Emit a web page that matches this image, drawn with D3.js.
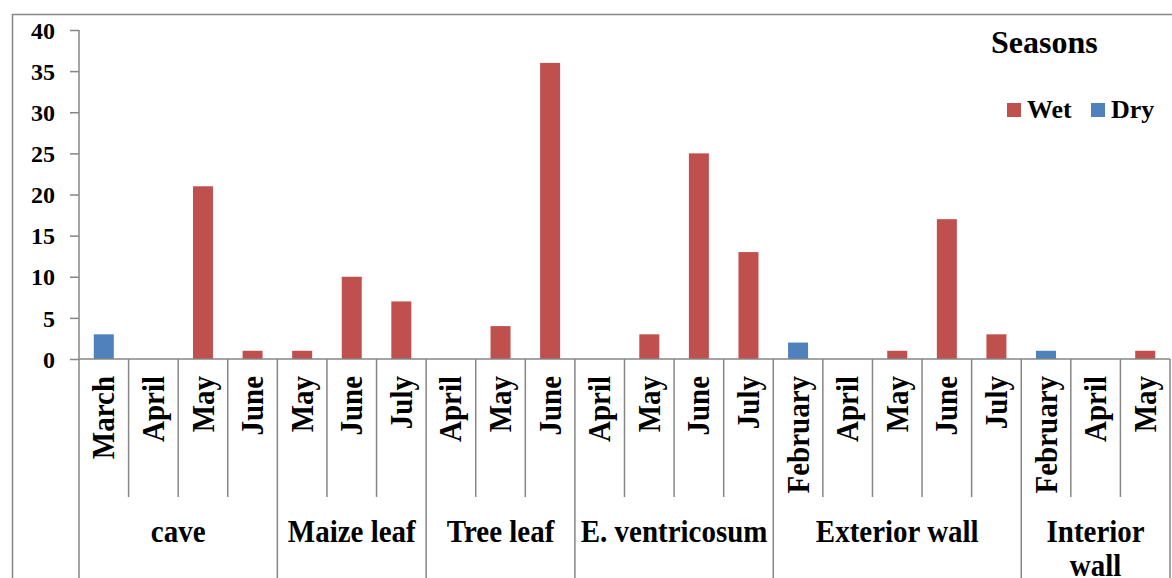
<!DOCTYPE html>
<html>
<head>
<meta charset="utf-8">
<script src="https://cdn.jsdelivr.net/npm/d3@7"></script>
<style>
  html, body { margin: 0; padding: 0; background: #fff; }
  svg { display: block; }
  text { font-family: "Liberation Serif", "Times New Roman", serif; font-weight: bold; fill: #000; }
</style>
</head>
<body>
<svg id="chart" width="1172" height="578"></svg>
<script>
// ---- data ----
const groups = ["cave", "Maize leaf", "Tree leaf", "E. ventricosum", "Exterior wall", "Interior wall"];
const groupSizes = [4, 3, 3, 4, 5, 3];
const months = ["March", "April", "May", "June",
                "May", "June", "July",
                "April", "May", "June",
                "April", "May", "June", "July",
                "February", "April", "May", "June", "July",
                "February", "April", "May"];
const wet = [0, 0, 21, 1,
             1, 10, 7,
             0, 4, 36,
             0, 3, 25, 13,
             0, 0, 1, 17, 3,
             0, 0, 1];
const dry = [3, 0, 0, 0,
             0, 0, 0,
             0, 0, 0,
             0, 0, 0, 0,
             2, 0, 0, 0, 0,
             1, 0, 0];
const yTicks = [0, 5, 10, 15, 20, 25, 30, 35, 40];
const seriesNames = ["Wet", "Dry"];
const colors = ["#C0504D", "#4F81BD"];

// ---- layout ----
const svg = d3.select("#chart");
const pLeft = 79, pRight = 1170, pTop = 30, pBottom = 359;
const gridColor = "#868686";

const x = d3.scaleBand().domain(d3.range(months.length)).range([pLeft, pRight]).padding(0);
const y = d3.scaleLinear().domain([0, 40]).range([pBottom, pTop]);
const barW = 20;

// outer frame
svg.append("rect").attr("x", 12.5).attr("y", 14.5).attr("width", 1200).attr("height", 600)
  .attr("fill", "none").attr("stroke", gridColor).attr("stroke-width", 1.5);

// y axis
const yAxis = d3.axisLeft(y).tickValues(yTicks).tickSize(9).tickPadding(15).tickFormat(d3.format("d"));
const yg = svg.append("g").attr("transform", `translate(${pLeft},0)`).call(yAxis);
yg.attr("font-family", null).attr("font-size", null);
yg.select(".domain").remove();
yg.selectAll(".tick line").attr("stroke", gridColor).attr("stroke-width", 1.5);
yg.selectAll(".tick text").style("font-size", "24px").attr("dy", "0.34em")
  .style("font-family", "'Liberation Serif', 'Times New Roman', serif").style("font-weight", "bold").attr("fill", "#000");
svg.append("line").attr("x1", pLeft).attr("x2", pLeft).attr("y1", pTop).attr("y2", 578)
  .attr("stroke", gridColor).attr("stroke-width", 1.5);

// bars (stacked, one series per category is non-zero)
const stackData = months.map((m, i) => ({ i, Wet: wet[i], Dry: dry[i] }));
const stacked = d3.stack().keys(seriesNames)(stackData);
stacked.forEach((s, si) => {
  svg.append("g").selectAll("rect").data(s.filter(d => d[1] - d[0] > 0)).join("rect")
    .attr("x", d => x(d.data.i) + x.bandwidth() / 2 - barW / 2)
    .attr("width", barW)
    .attr("y", d => y(d[1]))
    .attr("height", d => y(d[0]) - y(d[1]))
    .attr("fill", colors[si]);
});

// x axis line
svg.append("line").attr("x1", pLeft).attr("x2", pRight).attr("y1", pBottom).attr("y2", pBottom)
  .attr("stroke", gridColor).attr("stroke-width", 1.5);

// month separators and group separators
const groupStarts = [];
let acc = 0;
groupSizes.forEach(n => { groupStarts.push(acc); acc += n; });
d3.range(1, months.length + 1).forEach(k => {
  const isGroup = groupStarts.includes(k) || k === months.length;
  const xx = k === months.length ? pRight : x(k);
  svg.append("line").attr("x1", xx).attr("x2", xx).attr("y1", pBottom).attr("y2", isGroup ? 578 : 497)
    .attr("stroke", gridColor).attr("stroke-width", 1.5);
});

// month labels
svg.append("g").selectAll("text").data(months).join("text")
  .attr("transform", (d, i) => `translate(${x(i) + x.bandwidth() / 2},376) rotate(-90) scale(1,1.1)`)
  .attr("text-anchor", "end")
  .attr("dy", "0.33em")
  .style("font-size", "29px")
  .text(d => d);

// group labels
groups.forEach((g, gi) => {
  const s = groupStarts[gi], n = groupSizes[gi];
  const x0 = x(s), x1 = s + n === months.length ? pRight : x(s + n);
  const cx = (x0 + x1) / 2;
  const words = g === "Interior wall" ? ["Interior", "wall"] : [g];
  const t = svg.append("text").attr("transform", `translate(${cx},542) scale(1,1.12)`)
    .attr("text-anchor", "middle").style("font-size", "29px");
  words.forEach((w, wi) => t.append("tspan").attr("x", 0).attr("dy", wi === 0 ? 0 : 30).text(w));
});

// legend
svg.append("text").attr("x", 991).attr("y", 53).style("font-size", "32px").text("Seasons");
const legendItems = [{ name: seriesNames[0], color: colors[0], x: 1007 }, { name: seriesNames[1], color: colors[1], x: 1091 }];
legendItems.forEach(it => {
  svg.append("rect").attr("x", it.x).attr("y", 103).attr("width", 14).attr("height", 14).attr("fill", it.color);
  svg.append("text").attr("x", it.x + 20).attr("y", 118).style("font-size", "26px").text(it.name);
});
</script>
</body>
</html>
